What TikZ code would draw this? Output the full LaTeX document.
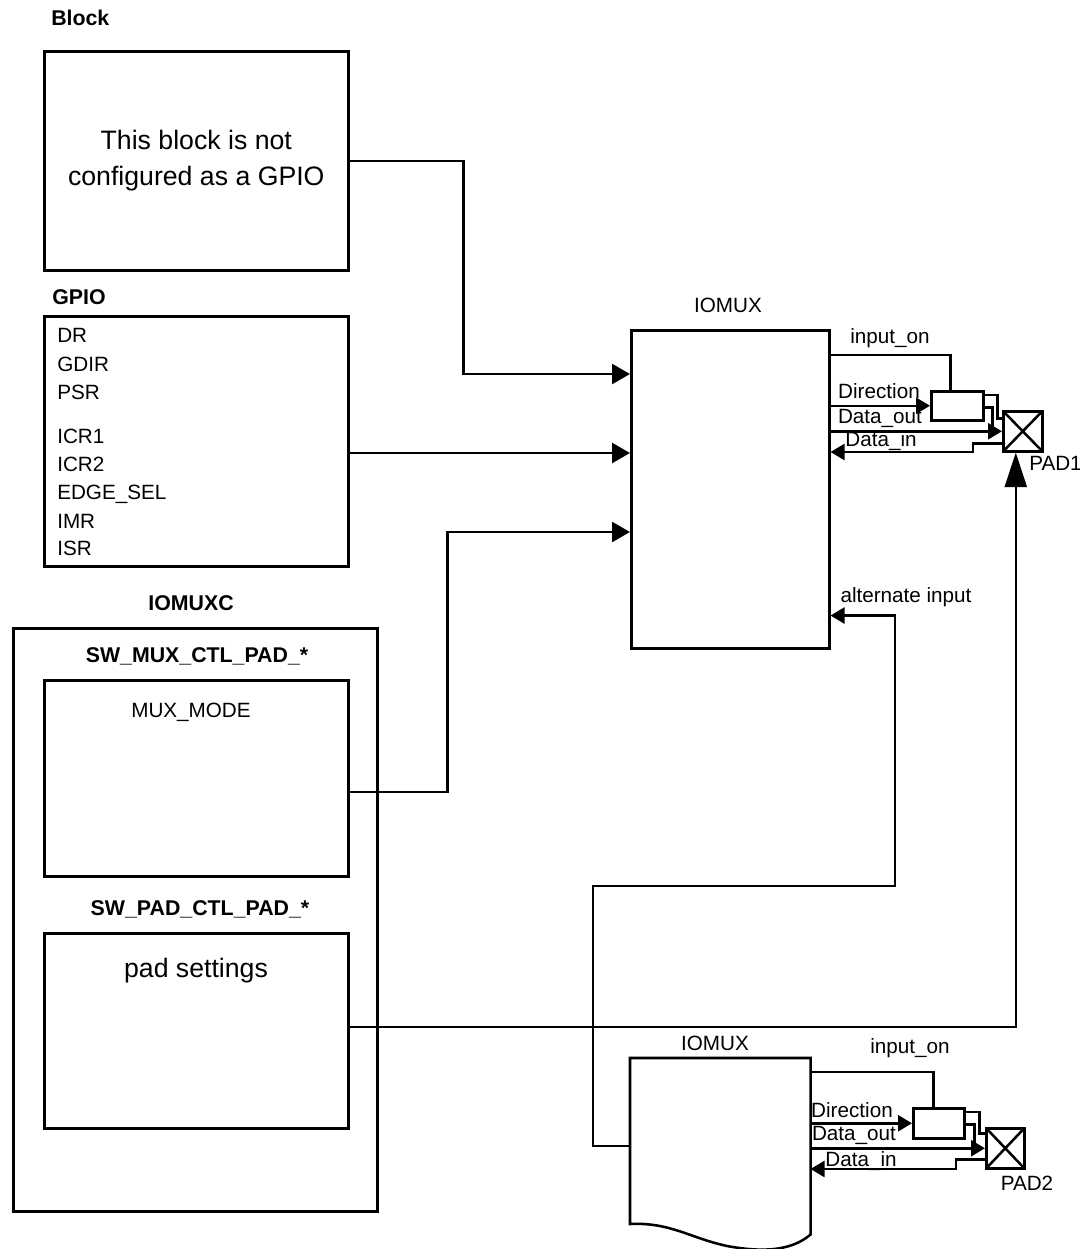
\documentclass[tikz,border=0pt]{standalone}
\usepackage{fontspec}
\setmainfont{Liberation Sans}
\usetikzlibrary{arrows.meta,calc}
\begin{document}
\begin{tikzpicture}[x=0.75pt,y=-0.75pt,
  line width=1.9pt,
  box/.style={draw, line width=1.9pt, inner sep=0pt, anchor=north west},
  lbl/.style={font=\fontsize{15.5}{18}\selectfont, inner sep=0pt, anchor=base},
  blbl/.style={font=\fontsize{16}{19}\selectfont\bfseries, inner sep=0pt, anchor=base},
  bigarr/.style={-{Triangle[length=13.5pt,width=15pt]}},
  smallarr/.style={-{Triangle[length=10.5pt,width=12pt]}},
  uparr/.style={-{Triangle[length=26pt,width=16.5pt]}},
  padbox/.style={box, path picture={\draw[line width=1.9pt] (path picture bounding box.north west) -- (path picture bounding box.south east) (path picture bounding box.north east) -- (path picture bounding box.south west);}},
]
\useasboundingbox (0,0) rectangle (1080,1249);

% ---------- boxes ----------
\node[box, minimum width=228pt, minimum height=164.25pt, align=center,
      font=\fontsize{20}{27}\selectfont] (block) at (43,50) {This block is not\\configured as a GPIO};
\node[box, minimum width=228pt, minimum height=187.5pt] (gpio) at (43,315) {};
\node[box, minimum width=273pt, minimum height=437.25pt] (iomuxc) at (12,627) {};
\node[box, minimum width=228pt, minimum height=147pt] (mux) at (43,679) {};
\node[box, minimum width=228pt, minimum height=146.25pt] (padset) at (43,932) {};
\node[box, minimum width=148.5pt, minimum height=238.5pt] (iomux1) at (630,329) {};
\node[inner sep=0pt, anchor=north west, minimum width=133.5pt, minimum height=130.5pt] (iomux2) at (630,1058) {};
\draw (630,1224) -- (iomux2.north west) -- (iomux2.north east) -- (iomux2.south east)
  .. controls (790,1252) and (760,1252) .. (727,1246)
  .. controls (690,1238) and (670,1222) .. (630,1224) -- cycle;
\node[box, minimum width=39pt, minimum height=21.75pt] (buf1) at (930,390) {};
\node[padbox, minimum width=29.25pt, minimum height=30pt] (pad1) at (1002,410) {};
\node[box, minimum width=38.25pt, minimum height=22.5pt] (buf2) at (912,1107) {};
\node[padbox, minimum width=28.5pt, minimum height=30pt] (pad2) at (985,1127) {};

% ---------- labels ----------
\node[blbl, anchor=base west] (tblock) at (50,26) {Block};
\node[blbl, anchor=base west] (tgpio) at (51,304) {GPIO};
\node[lbl, anchor=base west] (r1) at (56,342) {DR};
\node[lbl, anchor=base west] (r2) at (56,371) {GDIR};
\node[lbl, anchor=base west] (r3) at (56,399) {PSR};
\node[lbl, anchor=base west] (r4) at (56,443) {ICR1};
\node[lbl, anchor=base west] (r5) at (56,471) {ICR2};
\node[lbl, anchor=base west] (r6) at (56,499) {EDGE\_SEL};
\node[lbl, anchor=base west] (r7) at (56,528) {IMR};
\node[lbl, anchor=base west] (r8) at (56,555) {ISR};
\node[blbl] (tiomuxc) at (191,610) {IOMUXC};
\node[blbl] (tswmux) at (197,662) {SW\_MUX\_CTL\_PAD\_*};
\node[lbl] (tmuxmode) at (191,717) {MUX\_MODE};
\node[blbl] (tswpad) at (200,915) {SW\_PAD\_CTL\_PAD\_*};
\node[lbl, font=\fontsize{20}{24}\selectfont] (tpadset) at (196,977) {pad settings};
\node[lbl] (tiomux1) at (728,312) {IOMUX};
\node[lbl] (tiomux2) at (715,1050) {IOMUX};
\node[lbl] (tin1) at (890,343) {input\_on};
\node[lbl] (tdir1) at (879,398) {Direction};
\node[lbl] (tdo1) at (880,423) {Data\_out};
\node[lbl] (tdi1) at (881,446) {Data\_in};
\node[lbl, anchor=base west] (tpad1) at (1028,470) {PAD1};
\node[lbl] (talt) at (906,602) {alternate input};
\node[lbl] (tin2) at (910,1053) {input\_on};
\node[lbl] (tdir2) at (852,1117) {Direction};
\node[lbl] (tdo2) at (854,1140) {Data\_out};
\node[lbl] (tdi2) at (861,1166) {Data\_in};
\node[lbl] (tpad2) at (1027,1190) {PAD2};

% ---------- connectors into IOMUX ----------
\draw[bigarr] (block.east) -- ++(114,0) |- ($(iomux1.north west)+(0,45)$);
\coordinate (g1) at ($(gpio.north east)+(0,138)$);
\draw[bigarr] (g1) -- (g1 -| iomux1.west);
\coordinate (m1) at ($(mux.north east)+(0,113)$);
\draw[bigarr] (m1) -- ++(98,0) |- ($(iomux1.north west)+(0,203)$);
\coordinate (p1) at ($(padset.north east)+(0,95)$);
\coordinate (pu) at ($(pad1.south)+(-7,0)$);
\draw[uparr] (p1) -| (pu);
\coordinate (a2) at ($(iomux2.north west)+(0,88)$);
\coordinate (a1) at ($(iomux1.south east)+(0,-34)$);
\draw[smallarr] (a2) -- ++(-37,0) |- ++(302,-260) |- (a1);

% ---------- PAD1 signals ----------
\draw ($(iomux1.north east)+(0,26)$) -| ($(buf1.north)+(-7,0)$);
\draw[smallarr] (buf1.west -| iomux1.east) -- (buf1.west);
\draw[smallarr] (pad1.west -| iomux1.east) -- (pad1.west);
\draw[smallarr] ($(pad1.west)+(0,12)$) -- ++(-29,0) |- ($(iomux1.north east)+(0,123)$);
\draw ($(buf1.north east)+(0,5)$) -- ++(13,0) |- ($(pad1.west)+(0,-13)$);
\draw ($(buf1.east)+(0,1.5)$) -- ++(8,0) -- ++(0,19);

% ---------- PAD2 signals ----------
\draw ($(iomux2.north east)+(0,14)$) -| ($(buf2.north)+(-5.5,0)$);
\draw[smallarr] (buf2.west -| iomux2.east) -- (buf2.west);
\draw[smallarr] (pad2.west -| iomux2.east) -- (pad2.west);
\draw[smallarr] ($(pad2.west)+(0,11)$) -- ++(-29,0) |- ($(iomux2.north east)+(0,111)$);
\draw ($(buf2.north east)+(0,5)$) -- ++(14,0) |- ($(pad2.west)+(0,-15)$);
\draw ($(buf2.east)+(0,1)$) -- ++(9,0) -- ++(0,20);
\end{tikzpicture}
\end{document}
